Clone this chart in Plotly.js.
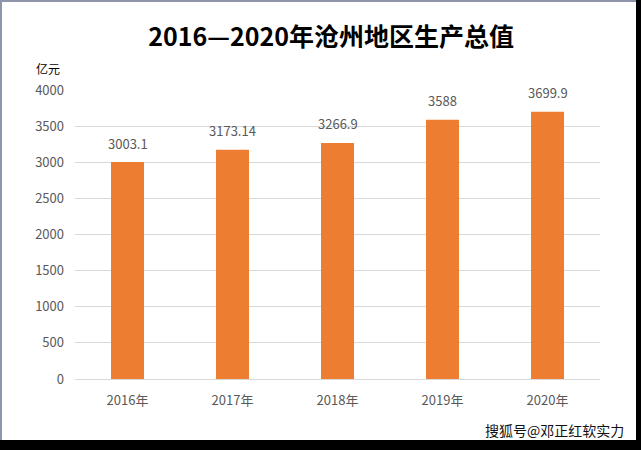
<!DOCTYPE html>
<html>
<head>
<meta charset="utf-8">
<script src="https://cdn.plot.ly/plotly-3.0.1.min.js"></script>
<style>
  html, body { margin: 0; padding: 0; background: #000; width: 641px; height: 450px; overflow: hidden; }
  #frame { position: absolute; left: 0; top: 0; width: 636px; height: 440px; background: #8e94aa; }
  #chart { position: absolute; left: 2px; top: 2px; width: 634px; height: 438px; background: #fff; }
</style>
</head>
<body>
<div id="frame"></div>
<div id="chart"></div>
<script>
const categories = ["2016年", "2017年", "2018年", "2019年", "2020年"];
const values = [3003.1, 3173.14, 3266.9, 3588, 3699.9];
const valueLabels = ["3003.1", "3173.14", "3266.9", "3588", "3699.9"];
const yTicks = [0, 500, 1000, 1500, 2000, 2500, 3000, 3500, 4000];

const FONT = "Noto Sans CJK SC, Noto Sans, sans-serif";

const trace = {
  type: "bar",
  x: categories,
  y: values,
  marker: { color: "#ED7D31" },
  hoverinfo: "none"
};

const valueAnnotations = categories.map((c, i) => ({
  x: c, y: values[i], xref: "x", yref: "y",
  text: valueLabels[i], showarrow: false,
  yanchor: "middle", yshift: 19,
  font: { family: FONT, size: 13, color: "#595959" }
}));

const layout = {
  width: 634, height: 438,
  margin: { l: 73, r: 36, t: 88, b: 61 },
  paper_bgcolor: "#fff", plot_bgcolor: "#fff",
  bargap: 0.686,
  showlegend: false,
  title: {
    text: "<b>2016—2020年沧州地区生产总值</b>",
    x: 0.519, xanchor: "center", y: 0.919, yanchor: "middle",
    font: { family: FONT, size: 25, color: "#000" }
  },
  xaxis: {
    type: "category",
    showgrid: false, showline: false, zeroline: false,
    ticks: "",
    ticklabelstandoff: 12,
    tickfont: { family: FONT, size: 13, color: "#595959" },
    fixedrange: true
  },
  yaxis: {
    range: [0, 4000],
    tickvals: yTicks,
    ticktext: yTicks.map(String),
    showgrid: true, gridcolor: "#d9d9d9", gridwidth: 1,
    zeroline: true, zerolinecolor: "#d9d9d9", zerolinewidth: 1,
    showline: false, ticks: "",
    ticklabelstandoff: 10,
    tickfont: { family: FONT, size: 13, color: "#595959" },
    fixedrange: true
  },
  annotations: valueAnnotations.concat([
    {
      text: "亿元", xref: "paper", yref: "paper", x: -0.078, y: 1.074,
      xanchor: "left", yanchor: "middle", showarrow: false,
      font: { family: FONT, size: 12, color: "#000" }
    },
    {
      text: "搜狐号@邓正红软实力", xref: "paper", yref: "paper", x: 1.05, y: -0.176,
      xanchor: "right", yanchor: "middle", showarrow: false,
      font: { family: FONT, size: 14, color: "#111", shadow: "1px 1px 1px #fff" }
    }
  ])
};

Plotly.newPlot("chart", [trace], layout, { displayModeBar: false, staticPlot: true });
</script>
</body>
</html>
